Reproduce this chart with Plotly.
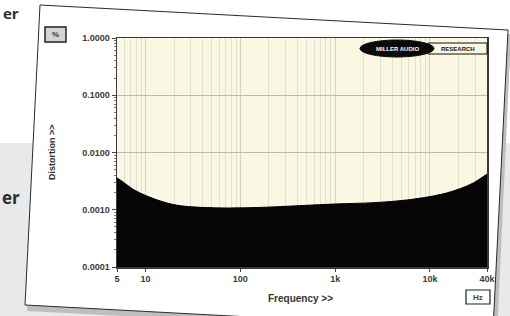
import plotly.graph_objects as go

# ---- data ----
freq_hz = [5, 5.5, 7.6, 10.4, 15.6, 23.7, 53, 110, 220, 471, 1000, 2575, 5700, 13200, 21000, 28700, 40000]
distortion_pct = [0.0036, 0.00325, 0.00222, 0.00173, 0.00136, 0.00117, 0.00108, 0.00108, 0.00112,
                  0.00119, 0.00126, 0.00133, 0.00148, 0.00186, 0.00235, 0.00294, 0.0042]

x_tick_vals = [5, 10, 100, 1000, 10000, 40000]
x_tick_text = ["5", "10", "100", "1k", "10k", "40k"]
y_tick_vals = [0.0001, 0.001, 0.01, 0.1, 1.0]
y_tick_text = ["0.0001", "0.0010", "0.0100", "0.1000", "1.0000"]

x_minor = [k * 10 ** e for e in range(0, 5) for k in range(2, 10)
           if 5 < k * 10 ** e < 40000 and k * 10 ** e not in x_tick_vals]
y_minor = [k * 10.0 ** e for e in range(-4, 0) for k in range(2, 10)]

# ---- layout geometry ----
W, H = 510, 316
L, R, T, B = 117, 23, 38, 49
PW, PH = W - L - R, H - T - B


def px(x):
    return (x - L) / PW


def py(y):
    return 1 - (y - T) / PH


def path(pts):
    return "M " + " L ".join(f"{px(a):.4f},{py(b):.4f}" for a, b in pts) + " Z"


shapes = [
    # page background panel (grey)
    dict(type="rect", xref="paper", yref="paper", x0=px(-5), x1=px(520), y0=py(143), y1=py(330),
         fillcolor="#E8E9EB", line=dict(width=0), layer="below"),
    # card shadow
    dict(type="path", xref="paper", yref="paper",
         path=path([(42, 9), (511, 34), (497, 336), (27, 311)]),
         fillcolor="#BDBEC0", line=dict(width=0), layer="below"),
    # rotated card
    dict(type="path", xref="paper", yref="paper",
         path=path([(40, 5), (508, 30), (493, 330), (25, 305)]),
         fillcolor="#FFFFFF", line=dict(color="#2A2A2A", width=1), layer="below"),
    # plot area background
    dict(type="rect", xref="paper", yref="paper", x0=0, x1=1, y0=0, y1=1,
         fillcolor="#FAF7E3", line=dict(width=0), layer="below"),
    # % box
    dict(type="rect", xref="paper", yref="paper", x0=px(45), x1=px(66), y0=py(27), y1=py(42),
         fillcolor="#D4D4D4", line=dict(color="#222", width=1.5), layer="above"),
    # Hz box
    dict(type="rect", xref="paper", yref="paper", x0=px(466), x1=px(490), y0=py(290), y1=py(304),
         fillcolor="#FFFFFF", line=dict(color="#222", width=1.2), layer="above"),
    # logo
    dict(type="rect", xref="paper", yref="paper", x0=px(428), x1=px(487), y0=py(43), y1=py(54),
         fillcolor="#FAF7E3", line=dict(color="#111", width=1), layer="above"),
    dict(type="circle", xref="paper", yref="paper", x0=px(360), x1=px(434), y0=py(40), y1=py(57),
         fillcolor="#0A0A0A", line=dict(color="#0A0A0A", width=1), layer="above"),
]

fig = go.Figure()
fig.add_trace(go.Scatter(
    x=freq_hz, y=distortion_pct, mode="lines", fill="tozeroy",
    fillcolor="#050505", line=dict(color="#000000", width=1, shape="spline"),
    hoverinfo="skip", showlegend=False,
))

tickfont = dict(family="Liberation Sans, Arial, sans-serif", size=9, color="#3A3A3A", weight="bold")

fig.update_xaxes(
    type="log", range=[0.69897, 4.60206],
    tickvals=x_tick_vals, ticktext=x_tick_text, tickfont=tickfont,
    ticks="outside", ticklen=3, tickcolor="#444",
    showgrid=True, gridcolor="#D6D3C2", gridwidth=1,
    minor=dict(tickvals=x_minor, showgrid=True, gridcolor="#E2DFCF", gridwidth=1, ticks=""),
    showline=True, linecolor="#3A3A3A", linewidth=1.5, mirror=True, zeroline=False,
)
fig.update_yaxes(
    type="log", range=[-4, 0],
    tickvals=y_tick_vals, ticktext=y_tick_text, tickfont=tickfont,
    ticks="outside", ticklen=4, tickcolor="#444",
    showgrid=True, gridcolor="#BDBAAC", gridwidth=1.5,
    minor=dict(tickvals=y_minor, ticks="outside", ticklen=2, tickcolor="#777", showgrid=False),
    showline=True, linecolor="#3A3A3A", linewidth=1.5, mirror=True, zeroline=False,
)


def ann(text, x, y, size, color, **kw):
    return dict(text=text, x=px(x), y=py(y), xref="paper", yref="paper", showarrow=False,
                xanchor="center", yanchor="middle",
                font=dict(family=kw.pop("family", "Liberation Sans, Arial, sans-serif"),
                          size=size, color=color, weight="bold"), **kw)


annotations = [
    ann("Frequency >>", 300, 298, 10, "#333"),
    ann("Distortion >>", 52, 152, 9, "#333", textangle=-90),
    ann("%", 55.5, 34.5, 8, "#333"),
    ann("Hz", 478, 297, 8, "#444"),
    ann("MILLER AUDIO", 397, 48.5, 6, "#FFFFFF"),
    ann("RESEARCH", 457.5, 48.5, 6, "#111"),
    ann("er", 11, 13, 15, "#2E2E2E", family="Open Sans, Liberation Sans, sans-serif"),
    ann("er", 11, 197, 17, "#2E2E2E", family="Open Sans, Liberation Sans, sans-serif"),
]

fig.update_layout(
    width=W, height=H,
    margin=dict(l=L, r=R, t=T, b=B),
    paper_bgcolor="#FFFFFF", plot_bgcolor="rgba(0,0,0,0)",
    shapes=shapes, annotations=annotations, showlegend=False,
)

fig.write_html("out.html", config={"displayModeBar": False, "staticPlot": True},
               post_script="document.body.style.margin='0';document.body.style.overflow='hidden';")
